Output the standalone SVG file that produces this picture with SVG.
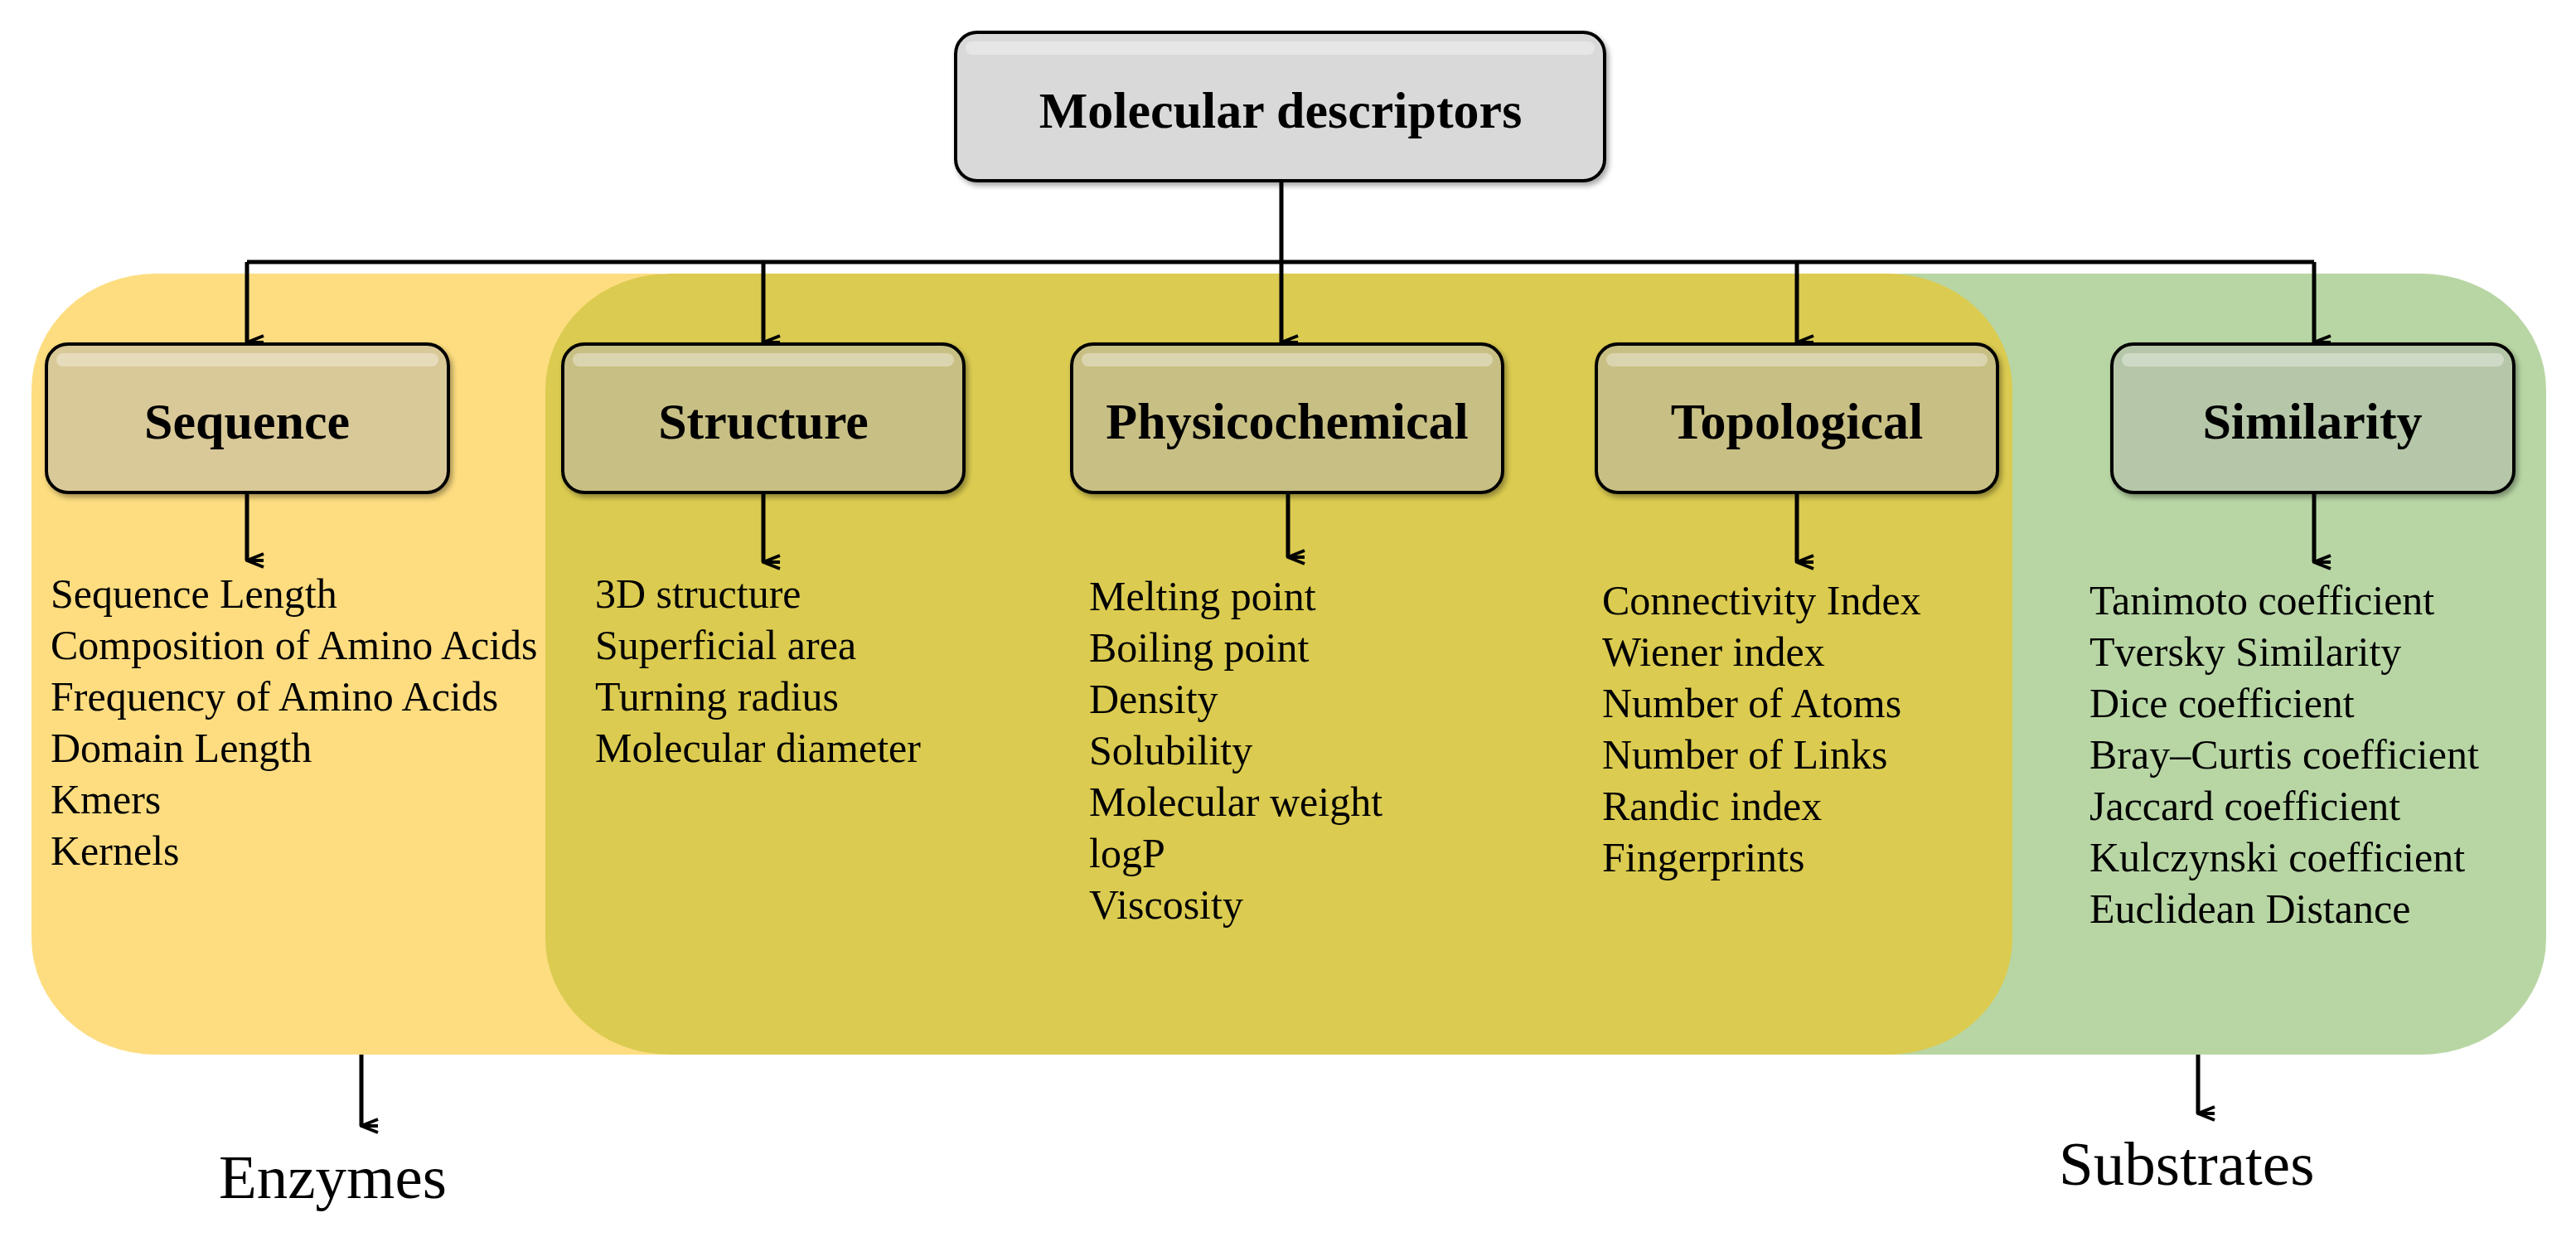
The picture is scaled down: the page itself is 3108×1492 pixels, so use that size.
<svg xmlns="http://www.w3.org/2000/svg" width="3108" height="1492" viewBox="0 0 3108 1492">
<style>
.list{font-family:"Liberation Serif",serif;font-size:50px;fill:#000}
.title{font-family:"Liberation Serif",serif;font-weight:bold;font-size:62px;fill:#000;text-anchor:middle}
.box{stroke:#000;stroke-width:4}
.hl{fill:#fff;opacity:0.35}
.con{stroke:#000;stroke-width:5;fill:none}
.big{font-family:"Liberation Serif",serif;font-size:75px;fill:#000}
</style>
<defs>
<marker id="ah" viewBox="0 0 20 24" refX="10" refY="22" markerWidth="20" markerHeight="24" markerUnits="userSpaceOnUse" orient="auto-start-reverse">
<path d="M2,2 L10,22 L18,2 M10,2 L10,22" fill="none" stroke="#000" stroke-width="4"/>
</marker>
<filter id="sh" x="-5%" y="-5%" width="115%" height="120%"><feDropShadow dx="3" dy="4" stdDeviation="3" flood-opacity="0.35"/></filter>
</defs>
<rect width="3108" height="1492" fill="#fff"/>
<g id="backgrounds">
<rect x="38" y="330" width="900" height="942" rx="150" ry="140" fill="#FDDD80"/>
<rect x="2150" y="330" width="922" height="942" rx="150" ry="140" fill="#B8D6A4"/>
<rect x="658" y="330" width="1770" height="942" rx="150" ry="140" fill="#DBCB50"/>
</g>
<g id="connectors">
<path class="con" d="M1546,218 V316 M298,316 H2792"/>
<path class="con" d="M298,316 V413" marker-end="url(#ah)"/>
<path class="con" d="M921,316 V413" marker-end="url(#ah)"/>
<path class="con" d="M1546,316 V413" marker-end="url(#ah)"/>
<path class="con" d="M2168,316 V413" marker-end="url(#ah)"/>
<path class="con" d="M2792,316 V413" marker-end="url(#ah)"/>
<path class="con" d="M298,594 V676" marker-end="url(#ah)"/>
<path class="con" d="M921,594 V678" marker-end="url(#ah)"/>
<path class="con" d="M1554,594 V672" marker-end="url(#ah)"/>
<path class="con" d="M2168,594 V678" marker-end="url(#ah)"/>
<path class="con" d="M2792,594 V678" marker-end="url(#ah)"/>
<path class="con" d="M436,1272 V1358" stroke-width="4" marker-end="url(#ah)"/>
<path class="con" d="M2652,1272 V1343" stroke-width="4" marker-end="url(#ah)"/>
</g>
<g id="root">
<rect class="box" x="1153" y="39" width="783" height="179" rx="26" fill="#D9D9D9" filter="url(#sh)"/>
<rect class="hl" x="1165" y="50" width="759" height="16" rx="8"/>
<text class="title" x="1545" y="154" font-size="67">Molecular descriptors</text>
</g>
<g id="sequence">
<rect class="box" x="56" y="415" width="485" height="179" rx="26" fill="#D9C998" filter="url(#sh)"/>
<rect class="hl" x="68" y="426" width="461" height="16" rx="8"/>
<text class="title" x="298" y="529">Sequence</text>
<text class="list" x="61" y="733">Sequence Length</text>
<text class="list" x="61" y="795">Composition of Amino Acids</text>
<text class="list" x="61" y="857">Frequency of Amino Acids</text>
<text class="list" x="61" y="919">Domain Length</text>
<text class="list" x="61" y="981">Kmers</text>
<text class="list" x="61" y="1043">Kernels</text>
</g>
<g id="structure">
<rect class="box" x="679" y="415" width="484" height="179" rx="26" fill="#C8BF84" filter="url(#sh)"/>
<rect class="hl" x="691" y="426" width="460" height="16" rx="8"/>
<text class="title" x="921" y="529">Structure</text>
<text class="list" x="718" y="733">3D structure</text>
<text class="list" x="718" y="795">Superficial area</text>
<text class="list" x="718" y="857">Turning radius</text>
<text class="list" x="718" y="919">Molecular diameter</text>
</g>
<g id="physicochemical">
<rect class="box" x="1293" y="415" width="520" height="179" rx="26" fill="#C8BF84" filter="url(#sh)"/>
<rect class="hl" x="1305" y="426" width="496" height="16" rx="8"/>
<text class="title" x="1553" y="529">Physicochemical</text>
<text class="list" x="1314" y="736">Melting point</text>
<text class="list" x="1314" y="798">Boiling point</text>
<text class="list" x="1314" y="860">Density</text>
<text class="list" x="1314" y="922">Solubility</text>
<text class="list" x="1314" y="984">Molecular weight</text>
<text class="list" x="1314" y="1046">logP</text>
<text class="list" x="1314" y="1108">Viscosity</text>
</g>
<g id="topological">
<rect class="box" x="1926" y="415" width="484" height="179" rx="26" fill="#C8BF84" filter="url(#sh)"/>
<rect class="hl" x="1938" y="426" width="460" height="16" rx="8"/>
<text class="title" x="2168" y="529">Topological</text>
<text class="list" x="1933" y="741">Connectivity Index</text>
<text class="list" x="1933" y="803">Wiener index</text>
<text class="list" x="1933" y="865">Number of Atoms</text>
<text class="list" x="1933" y="927">Number of Links</text>
<text class="list" x="1933" y="989">Randic index</text>
<text class="list" x="1933" y="1051">Fingerprints</text>
</g>
<g id="similarity">
<rect class="box" x="2548" y="415" width="485" height="179" rx="26" fill="#B5C7A8" filter="url(#sh)"/>
<rect class="hl" x="2560" y="426" width="461" height="16" rx="8"/>
<text class="title" x="2790" y="529">Similarity</text>
<text class="list" x="2521" y="741">Tanimoto coefficient</text>
<text class="list" x="2521" y="803">Tversky Similarity</text>
<text class="list" x="2521" y="865">Dice coefficient</text>
<text class="list" x="2521" y="927">Bray–Curtis coefficient</text>
<text class="list" x="2521" y="989">Jaccard coefficient</text>
<text class="list" x="2521" y="1051">Kulczynski coefficient</text>
<text class="list" x="2521" y="1113">Euclidean Distance</text>
</g>
<g id="enzymes"><text class="big" x="264" y="1445">Enzymes</text></g>
<g id="substrates"><text class="big" x="2484" y="1429">Substrates</text></g>
</svg>
